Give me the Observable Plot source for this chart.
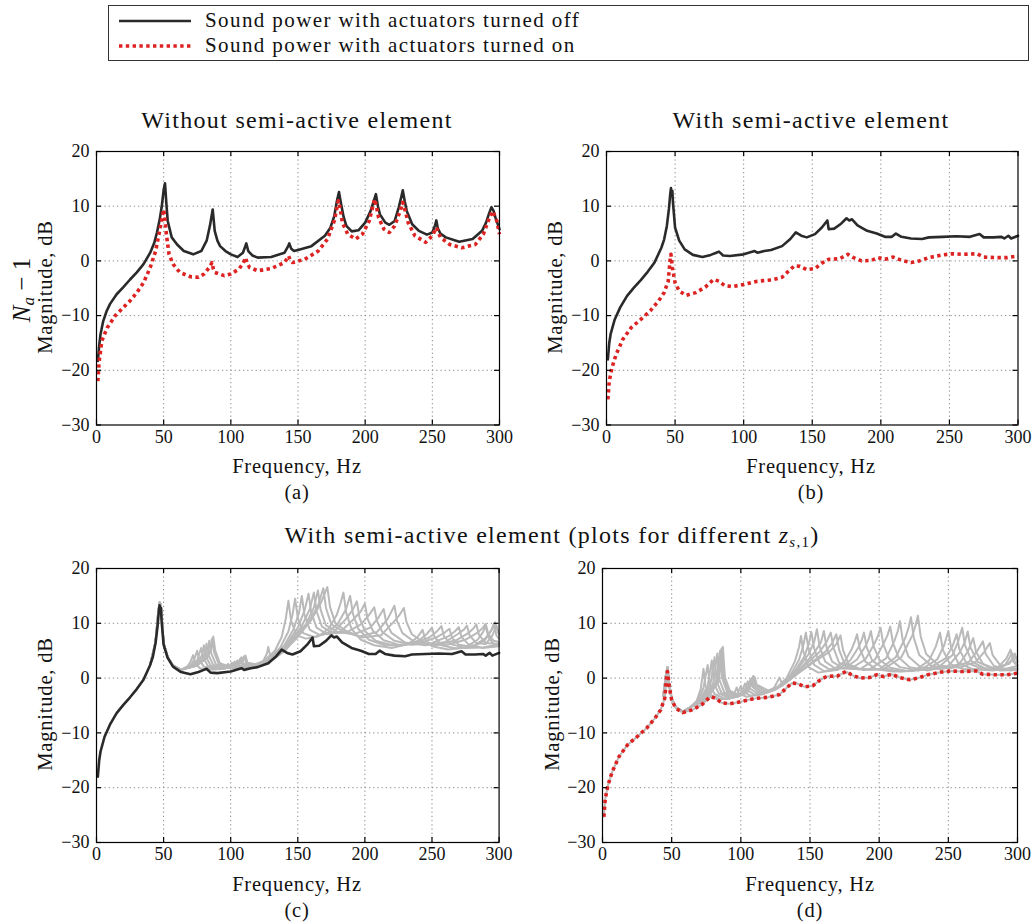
<!DOCTYPE html>
<html><head><meta charset="utf-8">
<script src="https://cdn.jsdelivr.net/npm/d3@7"></script>
<script src="https://cdn.jsdelivr.net/npm/@observablehq/plot@0.6"></script>
<style>
body{margin:0;background:#fff;}
#root{position:relative;width:1033px;height:922px;font-family:"Liberation Serif","DejaVu Serif",serif;color:#111;overflow:hidden;}
.t{position:absolute;white-space:nowrap;transform:translate(-50%,-50%);line-height:1;font-family:"Liberation Serif","DejaVu Serif",serif;}
.lab{font-size:20.5px;letter-spacing:0.8px;}
.leg{font-size:21px;letter-spacing:1.4px;}
.ttl{font-size:24px;letter-spacing:1.3px;}
.rot{transform:translate(-50%,-50%) rotate(-90deg);}
.plot{position:absolute;}
.plot text{font-family:"Liberation Serif","DejaVu Serif",serif;}
</style></head><body><div id="root"></div>
<script>
// ---- tick values ----
const freqTicks = [0, 50, 100, 150, 200, 250, 300];
const magTicks = [20, 10, 0, -10, -20, -30];
const freqGrid = [50, 100, 150, 200, 250];
const magGrid = [10, 0, -10, -20];

// ---- (a) without semi-active element: [Hz, dB] ----
const offA = [[1,-18.3],[2,-15.5],[3,-13.4],[5,-11],[7.5,-9.2],[10,-7.9],[15,-6.1],[20,-4.8],[25,-3.4],[30,-2.1],[35,-0.6],[40,1.5],[43,3.3],[45,5.2],[47,7.5],[48.5,9.8],[50,13.0],[51,14.2],[52,10.5],[53,7.3],[56,4.3],[60,3.0],[65,1.8],[72,1.2],[78,1.8],[82,3.7],[84.5,6.5],[86.5,9.4],[88,5.5],[90,3.7],[92,2.7],[96,1.8],[100,1.2],[105,0.7],[109,1.5],[110.5,2.5],[111.5,3.2],[113,1.8],[116,1.0],[120,0.6],[130,0.7],[140,1.5],[142.5,2.6],[143.5,3.2],[145,2.2],[147,1.8],[150,2.0],[160,2.7],[170,4.6],[174,6.0],[177,8.2],[179,11.0],[180.5,12.6],[182,10.5],[184,8.0],[186,6.4],[190,5.4],[195,5.6],[200,7.0],[204,9.1],[206.5,11.0],[208,12.2],[209.5,10.0],[211,8.5],[215,7.0],[218,6.6],[222,7.3],[225,9.8],[227,11.8],[228,12.9],[229.5,10.8],[231,9.1],[235,6.7],[240,5.5],[246,4.8],[250,5.2],[252,6.5],[253,7.4],[254,6.0],[256,5.0],[260,4.3],[270,3.5],[280,4.0],[287,5.5],[290,7.0],[292,8.5],[294,9.8],[295.5,9.2],[297,7.9],[300,5.8]];
const onA = [[1,-22],[2,-18.3],[4,-14.6],[8,-12.2],[14,-10],[20,-8.5],[25,-7.3],[30,-5.8],[35,-4.0],[40,-1.2],[44,1.8],[47,5.5],[49,8.2],[50,9.4],[51,7.5],[52,4.9],[54,1.2],[57,-0.6],[62,-2.1],[70,-2.9],[76,-3.0],[80,-2.4],[84,-1.2],[86,-0.3],[87,-1.5],[88,-2.1],[95,-2.7],[100,-2.4],[106,-1.5],[109,-0.5],[111,0.6],[112,-0.4],[114,-1.2],[120,-1.8],[130,-1.4],[140,-0.3],[143,0.9],[144.5,0.0],[146,-0.3],[155,0.3],[165,1.8],[172,4.0],[177,7.3],[180,11.0],[181.5,9.5],[183,7.0],[187,4.9],[193,4.0],[198,4.9],[203,7.3],[207,11.3],[208.5,9.8],[210,7.9],[214,5.8],[218,5.2],[222,6.4],[226,9.1],[228,10.7],[230,9.0],[232,7.0],[237,4.6],[245,3.4],[250,4.6],[253,6.1],[256,4.3],[263,3.0],[272,2.4],[282,3.0],[288,4.9],[293,8.2],[295,9.1],[298,7.3],[300,4.9]];

// ---- (b) with semi-active element ----
const offB = [[1,-18.0],[2,-15.0],[3,-13.4],[6,-10.7],[10,-8.5],[15,-6.4],[20,-4.9],[25,-3.5],[30,-2.0],[35,-0.3],[40,2.4],[42,3.9],[44,6.4],[45.5,9.5],[46.5,12.3],[47,13.3],[47.5,12.6],[48,12.8],[48.5,10.5],[50,6.1],[53,3.7],[57,2.1],[63,1.1],[70,0.7],[76,1.1],[80,1.5],[82,1.7],[85,1.0],[90,0.9],[100,1.2],[108,1.8],[110,1.5],[115,1.8],[120,2.0],[128,2.7],[134,4.0],[138,5.2],[142,4.6],[146,4.3],[152,4.9],[157,6.1],[161,7.4],[162,5.8],[166,5.9],[171,6.8],[175,7.8],[177,7.4],[179,7.6],[183,6.5],[190,5.5],[197,5.0],[203,4.4],[208,4.4],[211,5.0],[215,4.4],[222,4.1],[230,4.0],[235,4.3],[245,4.4],[255,4.5],[265,4.4],[272,4.9],[275,4.3],[282,4.3],[288,4.4],[290,4.1],[293,4.6],[295,4.1],[300,4.6]];
const onB = [[1,-25.3],[2,-22],[4,-19.5],[7,-17.1],[12,-14.3],[18,-12.2],[25,-10.7],[32,-9.1],[38,-7.3],[42,-5.8],[45,-3.7],[46.5,0.6],[47,1.2],[48,-1.2],[50,-4.0],[53,-5.5],[58,-6.3],[65,-5.8],[72,-4.8],[78,-3.4],[82,-3.7],[86,-4.5],[92,-4.7],[100,-4.3],[110,-3.7],[120,-3.5],[128,-3.0],[133,-1.8],[137,-0.9],[141,-1.0],[146,-1.6],[152,-1.4],[157,-0.4],[162,0.3],[170,0.4],[176,1.2],[180,0.6],[186,0.0],[193,0.1],[198,0.6],[203,0.3],[209,0.7],[215,0.1],[222,-0.3],[228,0.0],[235,0.6],[245,1.1],[252,1.3],[260,1.2],[270,1.3],[275,0.7],[285,0.6],[292,0.6],[300,0.9]];

// ---- (c) grey curves, actuators off, different z_s,1 ----
const grayHeadC = [[40,2.5],[44,6.6],[46,12.0],[47,13.8],[48,13.3],[50,6.4],[53,3.9],[57,2.3]];
const grayC1 = [[63,1.5],[68,2.2],[70,3.0],[72,4.2],[73.5,2.8],[77,1.8],[85,1.5],[93,1.7],[96,2.1],[98,2.6],[99.5,1.9],[105,1.8],[115,2.2],[125,3.2],[133,5.0],[138,7.5],[141,10.8],[143,14.1],[145,10.5],[149,7.8],[156,7.2],[165,7.6],[173,9.0],[179,11.5],[182,13.8],[184,15.6],[186,12.0],[190,9.0],[197,7.0],[207,6.0],[220,5.5],[232,6.2],[239,7.4],[243,8.8],[245,7.0],[250,5.8],[262,5.2],[275,5.6],[284,7.0],[288,8.4],[290,9.5],[292,7.5],[296,6.2],[300,6.0]];
const grayC2 = [[63,1.5],[70,2.3],[73,3.5],[75,5.0],[76.5,3.4],[80,2.1],[88,1.6],[96,1.8],[99,2.2],[101,2.8],[102.5,2.0],[108,1.9],[118,2.3],[128,3.4],[137,5.6],[143,8.5],[146,11.5],[148,14.5],[150,11.0],[154,8.2],[162,7.5],[172,8.2],[180,10.0],[186,12.6],[189,15.0],[191,11.8],[195,9.0],[203,7.0],[215,6.0],[228,6.0],[240,6.8],[246,8.0],[250,9.2],[252,7.5],[257,6.0],[268,5.4],[280,5.7],[290,7.3],[295,9.0],[297,10.2],[299,8.5],[300,8.0]];
const grayC3 = [[63,1.5],[70,2.2],[75,3.2],[78,5.5],[79.5,3.8],[83,2.2],[90,1.6],[98,1.9],[101,2.3],[103,3.0],[104.5,2.1],[110,2.0],[120,2.4],[130,3.6],[140,6.0],[147,9.0],[151,12.0],[153,15.0],[155,11.5],[159,8.8],[167,7.8],[177,8.5],[186,10.8],[191,12.5],[194,14.0],[196,11.0],[200,8.6],[208,6.8],[220,6.0],[235,6.2],[248,7.4],[254,8.6],[257,9.5],[259,7.6],[264,6.2],[275,5.5],[288,5.6],[300,6.2]];
const grayC4 = [[63,1.5],[70,2.1],[76,3.0],[79,4.4],[80,6.0],[81.5,4.0],[85,2.3],[92,1.6],[100,2.0],[103,2.5],[105,3.2],[106.5,2.3],[112,2.1],[122,2.5],[132,3.8],[142,6.3],[150,9.2],[155,12.3],[158,15.4],[160,12.0],[164,9.2],[172,8.0],[182,8.5],[191,10.6],[197,12.2],[200,13.6],[202,10.8],[206,8.6],[214,6.9],[226,6.0],[240,6.3],[253,7.4],[260,8.4],[263,9.0],[265,7.3],[270,6.1],[280,5.7],[289,6.8],[294,8.6],[296,9.8],[298,7.8],[300,7.2]];
const grayC5 = [[63,1.5],[70,2.0],[78,3.2],[81,4.6],[82,6.3],[83.5,4.2],[87,2.4],[94,1.7],[102,2.1],[105,2.7],[107,3.5],[108.5,2.5],[114,2.2],[124,2.6],[134,4.0],[144,6.6],[153,9.5],[159,12.6],[162,15.6],[164,12.2],[168,9.4],[176,8.2],[186,8.3],[197,9.8],[203,11.5],[207,12.9],[209,10.4],[213,8.4],[222,6.8],[235,6.1],[250,6.4],[262,7.6],[267,8.5],[270,9.3],[272,7.5],[277,6.2],[288,5.5],[300,5.8]];
const grayC6 = [[63,1.5],[72,2.1],[80,3.4],[83,5.0],[84,6.8],[85.5,4.5],[89,2.5],[96,1.8],[103,2.2],[106,2.9],[108,3.8],[109.5,2.6],[116,2.3],[126,2.8],[136,4.2],[146,6.9],[156,9.8],[162,12.9],[165,16.0],[167,12.5],[171,9.6],[180,8.4],[192,8.0],[204,9.2],[210,11.0],[214,12.6],[216,10.0],[220,8.2],[230,6.5],[245,6.0],[260,6.6],[269,8.0],[274,8.9],[276,9.6],[278,7.8],[283,6.4],[290,6.2],[295,7.8],[298,9.6],[300,8.0]];
const grayC7 = [[63,1.5],[74,2.2],[82,3.6],[85,5.4],[86,7.2],[87.5,4.8],[91,2.6],[98,1.9],[105,2.3],[108,3.1],[110,4.0],[111.5,2.7],[118,2.4],[124,3.0],[127,4.5],[128,5.7],[129.5,4.0],[133,3.7],[140,4.9],[148,7.2],[158,10.2],[165,13.2],[169,16.4],[171,12.8],[175,9.8],[184,8.5],[196,7.6],[209,8.4],[217,10.8],[222,13.2],[224,10.4],[228,8.2],[238,6.4],[253,6.0],[268,6.9],[277,8.2],[281,9.1],[283,9.8],[285,7.9],[290,6.4],[300,6.2]];
const grayC8 = [[63,1.5],[75,2.3],[83,3.8],[86,5.8],[87,7.6],[88.5,5.0],[92,2.7],[100,2.0],[106,2.4],[109,3.2],[111,4.1],[112.5,2.8],[120,2.5],[130,3.4],[140,5.0],[150,7.5],[160,10.6],[167,13.6],[172,16.6],[174,13.0],[178,10.0],[186,8.6],[198,7.4],[212,7.8],[222,10.4],[226,11.6],[229,12.8],[231,10.2],[235,8.0],[245,6.3],[260,6.0],[275,7.0],[284,8.3],[288,9.2],[290,9.9],[292,8.0],[296,6.8],[300,6.6]];

// ---- (d) grey curves, actuators on, different z_s,1 ----
const grayHeadD = [[44,-3.2],[46,0.8],[47,2.0],[48,-0.8],[50,-3.8],[53,-5.3],[58,-6.1]];
const grayD1 = [[63,-5.5],[68,-4.2],[71,-2.0],[73,1.7],[74.5,-1.5],[78,-3.0],[85,-3.8],[92,-3.8],[95,-3.0],[97,-1.7],[98.5,-2.8],[104,-3.4],[115,-3.0],[125,-2.0],[133,0.0],[139,3.0],[142,5.6],[143.5,7.7],[145,5.0],[149,2.0],[156,1.0],[166,1.4],[175,3.0],[180,5.2],[182.5,6.8],[184,8.0],[186,5.4],[190,3.0],[198,1.6],[210,1.2],[225,1.3],[236,3.2],[241,5.8],[244,8.3],[246,5.2],[251,2.6],[262,1.6],[275,1.6],[286,2.0],[292,3.6],[295,5.2],[297,3.0],[300,2.2]];
const grayD2 = [[63,-5.4],[69,-4.0],[73,-1.8],[76,2.4],[77.5,-1.2],[81,-2.9],[88,-3.7],[95,-3.6],[98,-2.6],[100,-1.4],[101.5,-2.5],[107,-3.2],[117,-2.8],[127,-1.6],[136,0.6],[142,3.3],[145,5.8],[147,8.3],[149,5.2],[153,2.4],[160,1.3],[170,1.5],[179,3.2],[185,5.6],[187.5,7.0],[189,8.3],[191,5.6],[195,3.2],[203,1.8],[215,1.2],[230,1.5],[242,3.4],[247,6.0],[250,8.6],[252,5.6],[257,2.8],[268,1.6],[282,1.4],[293,1.8],[300,2.2]];
const grayD3 = [[63,-5.4],[70,-4.0],[76,-1.5],[79,3.2],[80.5,-0.9],[84,-2.8],[91,-3.6],[98,-3.4],[101,-2.3],[103,-1.0],[104.5,-2.2],[110,-3.0],[120,-2.6],[130,-1.2],[139,1.2],[146,4.0],[149,6.2],[151,8.4],[153,5.4],[157,2.7],[164,1.6],[175,1.8],[184,3.4],[190,5.8],[192.5,7.2],[194,8.6],[196,5.8],[200,3.4],[208,1.9],[220,1.3],[235,1.7],[248,3.6],[253,5.8],[256,8.0],[258,5.2],[263,2.8],[275,1.7],[288,1.9],[295,3.0],[298,4.2],[300,3.0]];
const grayD4 = [[63,-5.4],[71,-4.0],[78,-1.2],[81,3.8],[82.5,-0.6],[86,-2.7],[93,-3.5],[100,-3.2],[103,-2.0],[105,-0.6],[106.5,-1.9],[112,-2.8],[122,-2.4],[132,-0.8],[141,1.6],[149,4.4],[153,6.6],[155,8.9],[157,5.7],[161,3.0],[168,1.8],[180,1.8],[190,3.4],[196,6.0],[199,7.6],[201,9.2],[203,6.2],[207,3.6],[215,2.0],[228,1.4],[243,2.0],[253,4.2],[257,6.6],[260,9.2],[262,6.0],[267,3.0],[278,1.6],[290,1.5],[300,1.8]];
const grayD5 = [[63,-5.4],[72,-4.0],[80,-1.0],[83,4.5],[84.5,-0.3],[88,-2.6],[95,-3.5],[102,-3.0],[105,-1.7],[107,-0.2],[108.5,-1.6],[114,-2.7],[124,-2.2],[134,-0.5],[144,2.0],[153,4.6],[158,6.6],[160,8.6],[162,5.6],[166,3.0],[174,1.8],[186,1.6],[197,3.4],[203,6.2],[206,7.8],[208,9.4],[210,6.4],[214,3.8],[222,2.0],[235,1.4],[250,2.2],[258,4.6],[262,6.6],[264,8.5],[266,5.6],[271,3.0],[282,1.7],[291,2.4],[294,3.6],[296,4.6],[298,3.0],[300,2.4]];
const grayD6 = [[63,-5.4],[73,-4.0],[82,-0.8],[85,5.0],[86.5,0.0],[90,-2.5],[97,-3.4],[103,-2.8],[106,-1.5],[108,0.0],[109.5,-1.4],[116,-2.6],[126,-2.0],[136,-0.2],[146,2.3],[157,4.8],[162,6.6],[165,8.3],[167,5.5],[171,2.8],[180,1.7],[193,1.6],[205,3.6],[211,6.8],[213.5,8.6],[215,10.4],[217,7.0],[221,4.0],[230,2.0],[245,1.6],[258,2.6],[264,4.8],[268,7.3],[270,4.8],[275,2.6],[287,1.4],[300,1.5]];
const grayD7 = [[63,-5.4],[74,-4.0],[83,-0.8],[86,5.4],[87.5,0.1],[91,-2.4],[98,-3.3],[104,-2.6],[107,-1.2],[109,0.4],[110.5,-1.2],[118,-2.5],[124,-1.8],[128,0.1],[130,-1.2],[138,0.2],[150,2.6],[161,4.8],[166,6.4],[169,8.0],[171,5.2],[175,2.6],[185,1.6],[200,1.6],[212,3.8],[219,7.4],[221.5,9.4],[223,11.1],[225,7.4],[229,4.2],[238,2.2],[252,1.8],[265,3.0],[271,5.0],[275,6.7],[277,4.4],[283,2.2],[295,1.4],[300,1.6]];
const grayD8 = [[63,-5.4],[75,-4.0],[84,-0.6],[87,5.7],[88.5,0.2],[92,-2.3],[99,-3.2],[105,-2.5],[108,-1.0],[110,0.2],[111.5,-1.2],[120,-2.3],[130,-1.4],[140,0.6],[152,2.8],[164,4.8],[169,6.2],[172,7.8],[174,5.0],[178,2.5],[188,1.5],[203,1.6],[216,3.8],[224,7.8],[226.5,9.8],[228,11.4],[230,7.6],[234,4.4],[243,2.3],[258,1.9],[270,3.0],[276,4.8],[280,6.4],[282,4.2],[288,2.2],[294,2.6],[296,3.4],[298,4.5],[300,3.0]];

// ---- styles ----
const BLACK = "#2a2a2a", RED = "#dd2222", GREY = "#b9b9b9";
const FONT = '"Liberation Serif","DejaVu Serif",serif';
const root = document.getElementById("root");

function txt(html, x, y, cls, extra) {
  const d = document.createElement("div");
  d.className = "t " + (cls || "");
  d.style.left = x + "px"; d.style.top = y + "px";
  if (extra) Object.assign(d.style, extra);
  d.innerHTML = html;
  root.appendChild(d);
  return d;
}

const offStyle = {x: d => d[0], y: d => d[1], stroke: BLACK, strokeWidth: 2.6, strokeLinejoin: "round"};
const onStyle = {x: d => d[0], y: d => d[1], stroke: RED, strokeWidth: 3.6, strokeDasharray: "3.4,3.4", strokeLinecap: "butt"};
const greyStyle = {x: d => d[0], y: d => d[1], stroke: GREY, strokeWidth: 2, strokeLinejoin: "round"};

function panel(fx0, fx1, fy0, fy1, lineMarks) {
  const W = fx1 - fx0, H = fy1 - fy0;
  const mL = 60, mR = 20, mT = 14, mB = 34;
  const chart = Plot.plot({
    width: W + mL + mR, height: H + mT + mB,
    marginLeft: mL, marginRight: mR, marginTop: mT, marginBottom: mB,
    x: {domain: [0, 300]},
    y: {domain: [-30, 20]},
    style: {fontFamily: FONT, fontSize: "18px", color: "#111", background: "transparent", overflow: "visible"},
    marks: [
      Plot.ruleX(freqGrid, {x: d => d, stroke: "#8c8c8c", strokeWidth: 1, strokeDasharray: "1.3,2.9"}),
      Plot.ruleY(magGrid, {y: d => d, stroke: "#8c8c8c", strokeWidth: 1, strokeDasharray: "1.3,2.9"}),
      ...lineMarks,
      Plot.tickX(freqTicks, {x: d => d, insetTop: H - 5, stroke: "#000", strokeWidth: 1.2}),
      Plot.tickX(freqTicks, {x: d => d, insetBottom: H - 5, stroke: "#000", strokeWidth: 1.2}),
      Plot.tickY(magTicks, {y: d => d, insetRight: W - 5, stroke: "#000", strokeWidth: 1.2}),
      Plot.tickY(magTicks, {y: d => d, insetLeft: W - 5, stroke: "#000", strokeWidth: 1.2}),
      Plot.frame({stroke: "#000", strokeWidth: 1.2}),
      Plot.axisX(freqTicks, {tickSize: 0, tickPadding: 5, label: null, fontSize: 18, fill: "#111"}),
      Plot.axisY(magTicks, {tickSize: 0, tickPadding: 7, label: null, fontSize: 18, fill: "#111"})
    ]
  });
  chart.classList.add("plot");
  chart.style.left = (fx0 - mL) + "px";
  chart.style.top = (fy0 - mT) + "px";
  chart.style.fontFamily = FONT;
  root.appendChild(chart);
}

const greyC = [grayC1, grayC2, grayC3, grayC4, grayC5, grayC6, grayC7, grayC8].map(c => grayHeadC.concat(c));
const greyD = [grayD1, grayD2, grayD3, grayD4, grayD5, grayD6, grayD7, grayD8].map(c => grayHeadD.concat(c));

// (a)
panel(95.5, 498.5, 150.5, 424, [Plot.line(offA, offStyle), Plot.line(onA, onStyle)]);
// (b)
panel(605.5, 1017, 150.5, 424, [Plot.line(offB, offStyle), Plot.line(onB, onStyle)]);
// (c)
panel(95.7, 498.3, 567.5, 841.5, [...greyC.map(c => Plot.line(c, greyStyle)), Plot.line(offB, offStyle)]);
// (d)
panel(602, 1017, 567.5, 841.5, [...greyD.map(c => Plot.line(c, greyStyle)), Plot.line(onB, greyStyle), Plot.line(onB, onStyle)]);

// ---- texts ----
txt("Without semi-active element", 297, 120, "ttl");
txt("With semi-active element", 811, 120, "ttl");
txt('With semi-active element (plots for different <i>z</i><sub style="font-size:15px;vertical-align:-4px;line-height:0"><i>s</i>,1</sub>)', 552, 535, "ttl");

txt("Frequency, Hz", 297, 466, "lab");
txt("(a)", 297, 492, "lab");
txt("Frequency, Hz", 811, 466, "lab");
txt("(b)", 811, 492, "lab");
txt("Frequency, Hz", 297, 884, "lab");
txt("(c)", 297, 910, "lab");
txt("Frequency, Hz", 810, 884, "lab");
txt("(d)", 810, 910, "lab");

txt("Magnitude, dB", 45, 287, "lab rot");
txt("Magnitude, dB", 555, 287, "lab rot");
txt("Magnitude, dB", 45, 704, "lab rot");
txt("Magnitude, dB", 552, 704, "lab rot");
txt('<i>N</i><sub style="font-size:17px;vertical-align:-4px;line-height:0"><i>a</i></sub> − 1', 21, 290, "rot", {fontSize: "25px"});

// ---- legend ----
const leg = document.createElement("div");
Object.assign(leg.style, {position: "absolute", left: "108px", top: "5px", width: "921px", height: "56px", border: "1px solid #333", boxSizing: "border-box"});
root.appendChild(leg);
const ns = "http://www.w3.org/2000/svg";
const ls = document.createElementNS(ns, "svg");
ls.setAttribute("width", "100"); ls.setAttribute("height", "56");
Object.assign(ls.style, {position: "absolute", left: "0", top: "0"});
ls.innerHTML = `<line x1="10" x2="82" y1="15" y2="15" stroke="${BLACK}" stroke-width="2.6"/>
<line x1="10" x2="82" y1="40" y2="40" stroke="${RED}" stroke-width="3.6" stroke-dasharray="3.4,3.4"/>`;
leg.appendChild(ls);
txt("Sound power with actuators turned off", 205, 20, "leg", {transform: "translate(0,-50%)"});
txt("Sound power with actuators turned on", 205, 45, "leg", {transform: "translate(0,-50%)"});
</script></body></html>
